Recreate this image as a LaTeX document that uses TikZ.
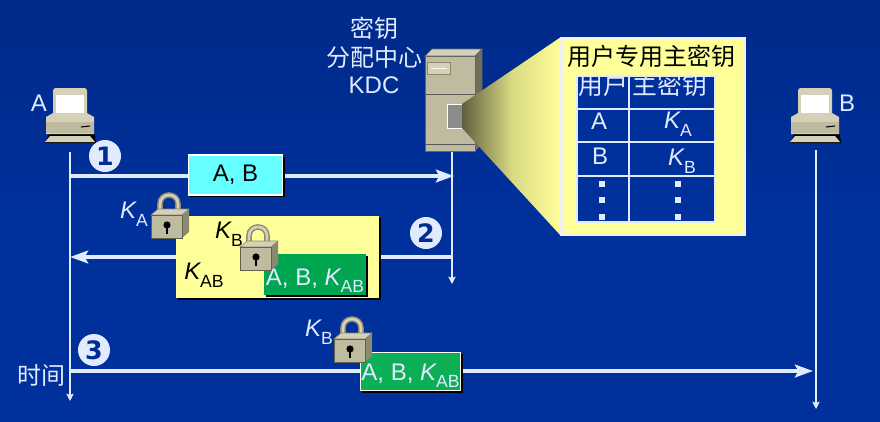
\documentclass[tikz,border=0pt]{standalone}
\usepackage{fontspec}
\setmainfont{Liberation Sans}
\newfontfamily\cjk{Noto Sans CJK SC}
\newfontfamily\numfont{DejaVu Sans}
\usetikzlibrary{arrows.meta,shadows}
\definecolor{bgtop}{RGB}{0,42,138}
\definecolor{bgbot}{RGB}{0,48,155}
\definecolor{lite}{RGB}{225,235,255}
\definecolor{paleyel}{RGB}{255,255,153}
\definecolor{greenA}{RGB}{0,165,80}
\definecolor{greenB}{RGB}{12,175,85}
\definecolor{navy}{RGB}{0,42,150}
\definecolor{tan}{RGB}{190,187,160}
\definecolor{tandk}{RGB}{140,138,110}
\definecolor{tanlt}{RGB}{212,209,184}
\definecolor{aqua}{RGB}{102,255,255}
\newcommand{\Ksub}[1]{\textit{K}\kern-.04em\raisebox{-.32em}{\fontsize{13.2pt}{14pt}\selectfont #1}}
\tikzset{
  lifeline/.style={draw=lite,line width=1.2pt,-{Stealth[length=5.5pt,width=5.5pt,inset=1pt]}},
  msg/.style={draw=lite,line width=2.7pt,-{Stealth[length=13.5pt,width=9.5pt,inset=2.5pt]}},
  txt/.style={text=lite,inner sep=0pt,font=\fontsize{18pt}{20pt}\selectfont},
  cjktxt/.style={text=lite,inner sep=0pt,font=\cjk\fontsize{18pt}{20pt}\selectfont},
  blk/.style={txt,text=black},
  badge/.style={circle,fill=lite,minimum size=24pt,inner sep=0pt,text=navy,font=\numfont\bfseries\fontsize{19pt}{20pt}\selectfont},
  dropsh/.style={drop shadow={shadow xshift=1.6pt,shadow yshift=-1.6pt,fill=black,opacity=1}},
  msgbox/.style={dropsh,inner sep=0pt},
  tabline/.style={draw=lite,line width=.8pt},
  tabdot/.style={fill=lite,minimum size=3.8pt,inner sep=0pt},
  pics/computer/.style={code={
    \fill[black] (48,36)--(49,47)--(50,50)--(51,57)--(0,57)--(5,46)--cycle;
    \fill[tanlt,rounded corners=2pt] (8,2)--(42,2)--(42,32)--(8,32)--cycle;
    \fill[white] (11,9) rectangle (39,30);
    \fill[tanlt] (1,31)--(8,27)--(42,27)--(49,31)--(49,48)--(1,48)--cycle;
    \fill[tan] (1,36) rectangle (49,47);
    \draw[black,line width=.8pt] (36,41)--(45,40);
    \fill[tanlt] (5,50)--(45,50)--(50,56)--(0,56)--cycle;
  }},
  pics/padlock/.style={code={
    \draw[tandk,line width=4.2pt] (9,8) -- (9,-5) .. controls (9,-17) and (27,-17) .. (27,-5) -- (27,8);
    \draw[tanlt,line width=2pt] (9,8) -- (9,-5) .. controls (9,-17) and (27,-17) .. (27,-5) -- (27,8);
    \fill[tanlt,draw=tandk,line width=.4pt] (0,6)--(7,0)--(38,0)--(31,6)--cycle;
    \fill[tandk] (31,6)--(38,0)--(38,23)--(31,29)--cycle;
    \fill[tan,draw=tandk!70!black,line width=.5pt] (0,6) rectangle (31,29);
    \fill[black] (16,16) circle[radius=3.6];
    \fill[black] (14.8,16) rectangle (17.2,25);
  }},
}
\begin{document}
\begin{tikzpicture}[x=.75pt,y=-.75pt]
\useasboundingbox (0,0) rectangle (880,421);
\shade[top color=bgtop,bottom color=bgbot,middle color=bgbot] (0,0) rectangle (880,421);
% fixed points on the lifelines
\coordinate (aTop) at (70,152);
\coordinate (aEnd) at (70,401);
\coordinate (kTop) at (452,151);
\coordinate (kEnd) at (452,284);
\coordinate (bTop) at (816,150);
\coordinate (bEnd) at (816,409);
\coordinate (a1) at (70,176);
\coordinate (k1) at (454,176);
\coordinate (k2) at (451,257);
\coordinate (a2) at (70,257);
\coordinate (a3) at (70,371);
\coordinate (b3) at (813,371);
\draw[lifeline] (aTop) -- (aEnd);
\draw[lifeline] (kTop) -- (kEnd);
\draw[lifeline] (bTop) -- (bEnd);
\draw[msg] (a1) -- (k1);
\draw[msg] (k2) -- (a2);
\draw[msg] (a3) -- (b3);
% computers
\pic at (45,86) {computer};
\pic at (790,86) {computer};
\node[txt] (lblA) at (39,103) {A};
\node[txt] (lblB) at (847,103) {B};
% server
\fill[tanlt,draw=black!60,line width=.5pt] (425,56)--(432,49)--(482,49)--(475,56)--cycle;
\fill[tandk!80!black,draw=black!60,line width=.5pt] (475,56)--(482,49)--(482,143)--(475,151)--cycle;
\fill[tan,draw=black!60,line width=.6pt] (425,56) rectangle (475,151);
\draw[black!65,line width=.7pt] (425,94)--(475,94) (425,144)--(475,144);
\fill[tanlt,draw=tandk,line width=.4pt] (427,62) rectangle (450,74);
\draw[white!85!tan,line width=.4pt] (431,68)--(447,68);
\fill[gray!90,draw=white,line width=.7pt] (447,104) rectangle (462,128);
% callout
\shade[left color=tandk!30!black!75!paleyel,right color=paleyel,middle color=paleyel!85!black] (462,104)--(561,37)--(561,236)--(462,128)--cycle;
\node[draw=white!88!gray,line width=1.8pt,fill=paleyel,minimum width=137.5pt,minimum height=148pt,inner sep=0pt] (callout) at (653,136.5) {};
\node[inner sep=0pt,text=black,font=\cjk\fontsize{18pt}{20pt}\selectfont] (title) at (651.5,56) {用户专用主密钥};
\node[fill=bgbot,draw=lite,line width=.8pt,minimum width=103.5pt,minimum height=109.5pt,inner sep=0pt] (table) at (646,149) {};
\begin{scope}
  \clip (577,76.5) rectangle (715,222);
  \node[cjktxt,font=\cjk\fontsize{18.6pt}{20pt}\selectfont] (hUser) at (603,85) {用户};
  \node[cjktxt,font=\cjk\fontsize{18.6pt}{20pt}\selectfont] (hKey) at (670,85) {主密钥};
\end{scope}
\draw[tabline,line width=1.5pt] (577,109)--(715,109);
\draw[tabline] (577,142)--(715,142) (577,176)--(715,176);
\draw[tabline,line width=1.2pt] (629,76)--(629,222);
\node[txt] (cA) at (599,121) {A};
\node[txt] (kA) at (678,124) {\Ksub{A}};
\node[txt] (cB) at (600,156) {B};
\node[txt] (kB) at (682,161) {\Ksub{B}};
\foreach \x in {602,678} \foreach \y in {184,200,217} \node[tabdot] at (\x,\y) {};
% KDC label
\node[cjktxt] (kdc1) at (374,28) {密钥};
\node[cjktxt] (kdc2) at (374,57) {分配中心};
\node[txt] (kdc3) at (374,85) {KDC};
% message boxes
\node[msgbox,fill=aqua,draw=white,line width=.8pt,minimum width=71pt,minimum height=30pt,text=black,font=\fontsize{18pt}{20pt}\selectfont] (ab) at (235.5,175) {A, B};
\node[msgbox,fill=paleyel,minimum width=152pt,minimum height=61.5pt] (sealed) at (277.5,257) {};
\node[msgbox,fill=greenA,minimum width=76.5pt,minimum height=30.5pt,text height=16pt,text depth=0pt,text=lite,font=\fontsize{18pt}{20pt}\selectfont] (g1) at (315,274.5) {A, B, \Ksub{AB}};
\node[msgbox,fill=greenB,draw=white,line width=.7pt,minimum width=75.5pt,minimum height=29pt,text height=12.8pt,text depth=0pt,text=lite,font=\fontsize{18pt}{20pt}\selectfont] (g2) at (410.5,371.5) {A, B, \Ksub{AB}};
% key labels
\node[txt] (ka1) at (134,214) {\Ksub{A}};
\node[blk] (kb2) at (229,234) {\Ksub{B}};
\node[blk] (kab) at (204,275) {\Ksub{AB}};
\node[txt] (kb3) at (319,332) {\Ksub{B}};
% locks
\pic at (151,209) {padlock};
\pic at (240,241) {padlock};
\pic at (334,333) {padlock};
% badges
\node[badge] (n1) at (105,156) {1};
\node[badge] (n2) at (426,233) {2};
\node[badge] (n3) at (94,350) {3};
\node[cjktxt] (time) at (41,375) {时间};
\end{tikzpicture}
\end{document}
